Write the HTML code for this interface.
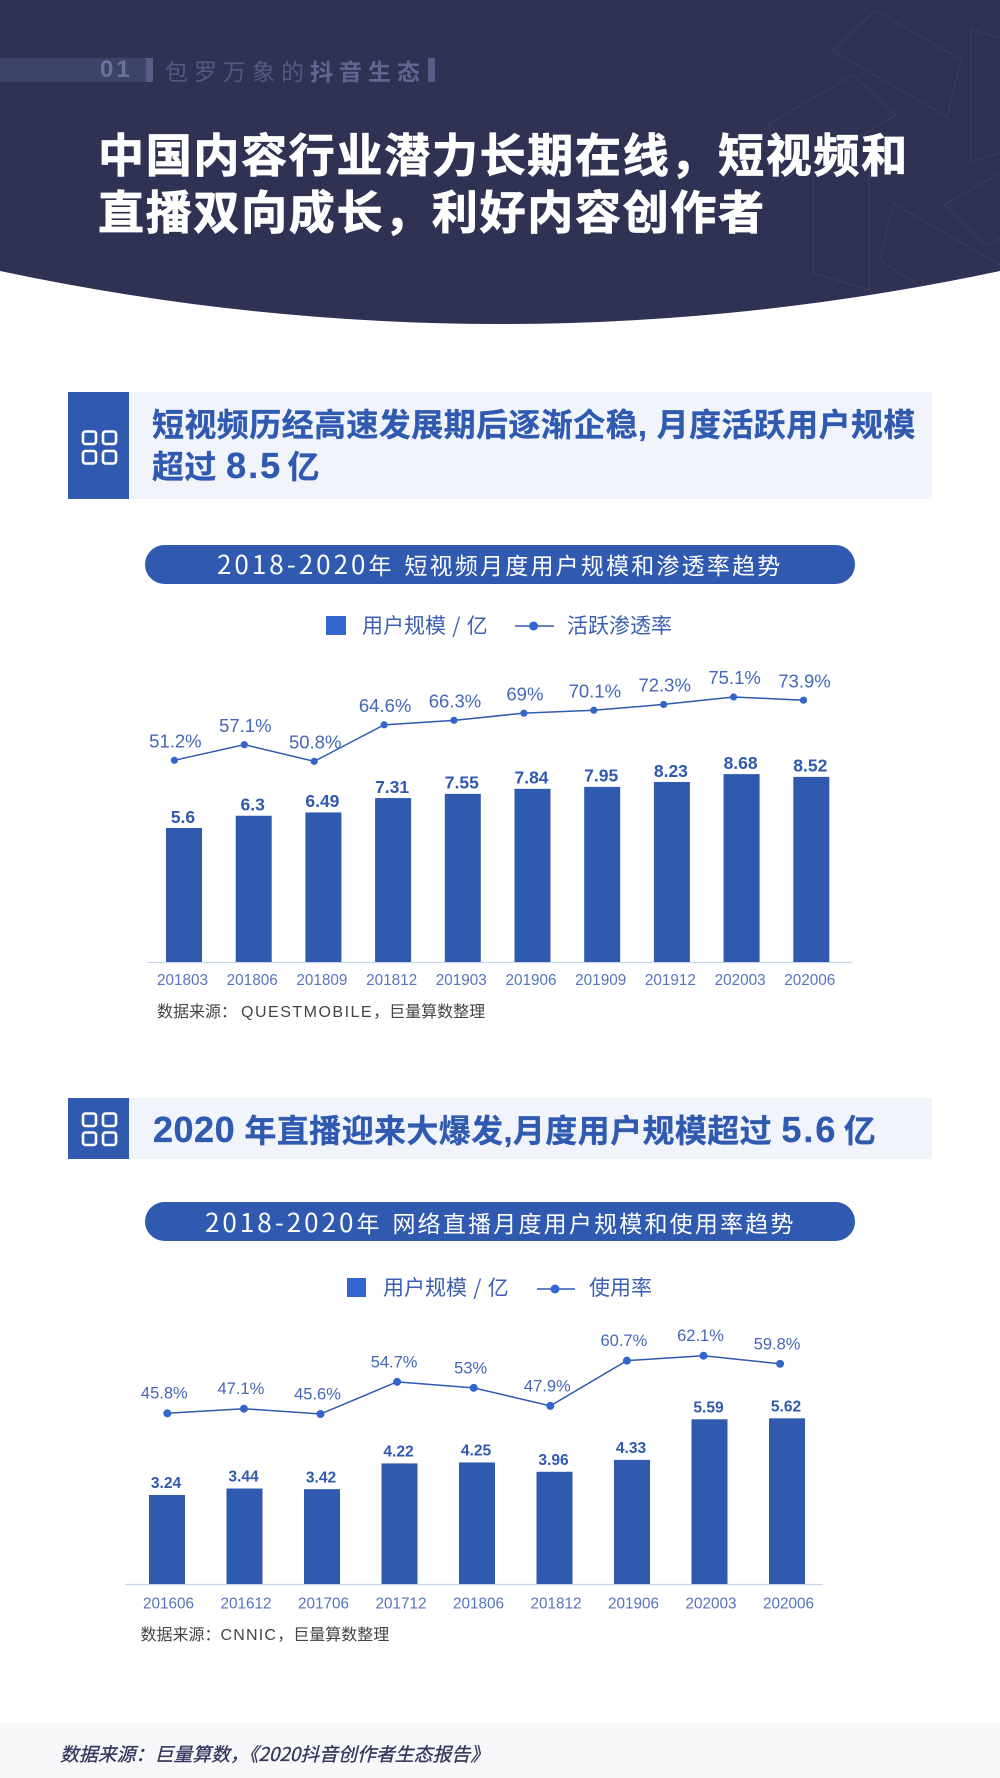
<!DOCTYPE html>
<html lang="zh-CN">
<head>
<meta charset="utf-8">
<title>中国内容行业潜力长期在线</title>
<style>
html,body{margin:0;padding:0;background:#fff;}
#page{position:relative;width:1000px;height:1778px;overflow:hidden;background:#fff;font-family:"Liberation Sans","Noto Sans CJK SC",sans-serif;}
.abs{position:absolute;white-space:nowrap;}
.cjk{font-family:"Noto Sans CJK SC","Liberation Sans",sans-serif;}
svg.layer{position:absolute;left:0;top:0;}
.sec-bg{position:absolute;left:129px;width:803px;background:#f1f5fb;}
.sec-blue{position:absolute;left:68px;width:61px;background:#3059b0;}
.sec-title{position:absolute;left:152px;color:#3059b0;font-weight:700;font-size:32px;line-height:40.5px;white-space:nowrap;letter-spacing:.4px;-webkit-text-stroke:.3px #3059b0;font-family:"Liberation Sans","Noto Sans CJK SC",sans-serif;}
.sec-num{font-size:36px;letter-spacing:2px;}
.pill{position:absolute;left:145px;width:710px;height:39px;border-radius:20px;background:#3059b0;}
.pill-text{position:absolute;color:#fff;font-size:23px;line-height:40px;white-space:nowrap;font-family:"Noto Sans CJK SC","Liberation Sans",sans-serif;}
.pill-num{font-size:26px;letter-spacing:3px;}
.legend-text{position:absolute;color:#3b5fb2;font-size:21px;line-height:30px;white-space:nowrap;word-spacing:1.5px;font-family:"Noto Sans CJK SC","Liberation Sans",sans-serif;}
.source{position:absolute;color:#444;font-size:16px;line-height:24px;white-space:nowrap;font-family:"Noto Sans CJK SC","Liberation Sans",sans-serif;}
</style>
</head>
<body>
<div id="page">

<svg class="layer" width="1000" height="340" viewBox="0 0 1000 340">
  <defs><clipPath id="hclip"><path d="M0 0H1000V271Q500 377 0 271Z"/></clipPath></defs>
  <g clip-path="url(#hclip)">
    <rect x="0" y="0" width="1000" height="340" fill="#303253"/>
    <g fill="none" stroke="#3b3e60" stroke-width="1">
      <path d="M875.7 10L961 60L947 117L832.7 50.7Z"/>
      <path d="M1000 38L971.3 29.3V162L1000 153"/>
      <path d="M853 75L896.3 115L781.7 181L768.5 124Z"/>
      <path d="M813 178L869 162V290L813 273Z"/>
      <path d="M893.3 203.3L1000 265V300H940L880 260Z"/>
      <path d="M1000 172.7L944 205L986.7 245.7L1000 238"/>
    </g>
  </g>
</svg>

<div class="abs" style="left:0;top:58px;width:146px;height:24px;background:#3e4368"></div>
<div class="abs" style="left:146px;top:58px;width:7px;height:24px;background:#555c85"></div>
<div class="abs" style="left:100px;top:56px;font-size:24px;line-height:28px;font-weight:700;letter-spacing:3px;color:#6b739c">01</div>
<div class="abs cjk" style="left:165px;top:54px;font-size:23px;line-height:32px;letter-spacing:6px;color:#535a82">包罗万象的<span style="font-weight:700;color:#5f668f">抖音生态</span></div>
<div class="abs" style="left:428px;top:58px;width:7px;height:24px;background:#555c85"></div>

<div class="abs cjk" style="left:98px;top:125px;font-size:46px;line-height:57px;font-weight:700;letter-spacing:1.7px;color:#fff;-webkit-text-stroke:.8px #fff">中国内容行业潜力长期在线&#xFF0C;短视频和<br>直播双向成长&#xFF0C;利好内容创作者</div>

<div class="sec-bg" style="top:392px;height:107px"></div>
<div class="sec-blue" style="top:392px;height:107px"></div>
<svg class="layer" width="1000" height="520" style="pointer-events:none">
  <g fill="none" stroke="#fff" stroke-width="2.6">
    <rect x="83" y="431.5" width="13" height="12.5" rx="2.5"/><rect x="103" y="431.5" width="13" height="12.5" rx="2.5"/>
    <rect x="83" y="451" width="13" height="12.5" rx="2.5"/><rect x="103" y="451" width="13" height="12.5" rx="2.5"/>
  </g>
</svg>
<div class="sec-title" style="top:405px">短视频历经高速发展期后逐渐企稳, 月度活跃用户规模<br>超过 <span class="sec-num">8.5</span> <span style="margin-left:-4px">亿</span></div>

<div class="pill" style="top:545px"></div>
<div class="pill-text" style="left:217px;top:544px"><span class="pill-num">2018-2020</span><span style="letter-spacing:2px">年</span><span style="display:inline-block;width:11px"></span><span style="letter-spacing:2.2px">短视频月度用户规模和渗透率趋势</span></div>

<div class="abs" style="left:326px;top:616px;width:19.5px;height:19px;background:#3366d0"></div>
<div class="legend-text" style="left:362px;top:610px">用户规模 / 亿</div>
<svg class="layer" width="1000" height="700" style="pointer-events:none">
  <line x1="515" y1="626" x2="554" y2="626" stroke="#3059b0" stroke-width="1.4"/><circle cx="533.6" cy="626" r="4.5" fill="#3366d0"/>
</svg>
<div class="legend-text" style="left:567px;top:610px">活跃渗透率</div>

<svg id="chart1" class="layer" width="1000" height="1778" style="pointer-events:none"></svg>
<div class="source" style="left:157px;top:998px">数据来源&#xFF1A;<span style="letter-spacing:1.5px;font-family:'Liberation Sans',sans-serif;margin-left:4px">QUESTMOBILE</span>&#xFF0C;巨量算数整理</div>

<div class="sec-bg" style="top:1098px;height:61px"></div>
<div class="sec-blue" style="top:1098px;height:61px"></div>
<svg class="layer" width="1000" height="1170" style="pointer-events:none">
  <g fill="none" stroke="#fff" stroke-width="2.6">
    <rect x="83" y="1113.5" width="13" height="12.5" rx="2.5"/><rect x="103" y="1113.5" width="13" height="12.5" rx="2.5"/>
    <rect x="83" y="1132.5" width="13" height="12.5" rx="2.5"/><rect x="103" y="1132.5" width="13" height="12.5" rx="2.5"/>
  </g>
</svg>
<div class="sec-title" style="left:153px;top:1110px"><span class="sec-num" style="letter-spacing:.5px">2020</span> 年直播迎来大爆发,月度用户规模超过 <span class="sec-num">5.6</span> <span style="margin-left:-3px">亿</span></div>

<div class="pill" style="top:1202px"></div>
<div class="pill-text" style="left:205px;top:1202px"><span class="pill-num">2018-2020</span><span style="letter-spacing:2px">年</span><span style="display:inline-block;width:11px"></span><span style="letter-spacing:2.2px">网络直播月度用户规模和使用率趋势</span></div>

<div class="abs" style="left:347px;top:1278px;width:19px;height:19px;background:#3366d0"></div>
<div class="legend-text" style="left:383px;top:1272px">用户规模 / 亿</div>
<svg class="layer" width="1000" height="1320" style="pointer-events:none">
  <line x1="537" y1="1289" x2="575" y2="1289" stroke="#3059b0" stroke-width="1.4"/><circle cx="555" cy="1289" r="4.5" fill="#3366d0"/>
</svg>
<div class="legend-text" style="left:589px;top:1272px">使用率</div>

<svg id="chart2" class="layer" width="1000" height="1778" style="pointer-events:none"></svg>
<div class="source" style="left:140.5px;top:1621px">数据来源&#xFF1A;<span style="font-family:'Liberation Sans',sans-serif;letter-spacing:1.2px">CNNIC</span>&#xFF0C;巨量算数整理</div>

<div class="abs" style="left:0;top:1723px;width:1000px;height:55px;background:#f8f8fb"></div>
<div class="abs cjk" style="left:60px;top:1740px;font-size:18.9px;line-height:28px;font-style:italic;color:#33365a;-webkit-text-stroke:.3px #33365a">数据来源&#xFF1A;巨量算数&#xFF0C;《2020抖音创作者生态报告》</div>
</div>

<script>
// Chart 1: short-video monthly users and penetration
var categories1 = ['201803','201806','201809','201812','201903','201906','201909','201912','202003','202006'];
var users1 = [5.6,6.3,6.49,7.31,7.55,7.84,7.95,8.23,8.68,8.52];
var rate1 = [51.2,57.1,50.8,64.6,66.3,69,70.1,72.3,75.1,73.9];

// Chart 2: live-streaming monthly users and usage
var categories2 = ['201606','201612','201706','201712','201806','201812','201906','202003','202006'];
var users2 = [3.24,3.44,3.42,4.22,4.25,3.96,4.33,5.59,5.62];
var rate2 = [45.8,47.1,45.6,54.7,53,47.9,60.7,62.1,59.8];

var SVGNS = 'http://www.w3.org/2000/svg';
function mk(svg, tag, attrs, text) {
  var n = document.createElementNS(SVGNS, tag);
  for (var k in attrs) n.setAttribute(k, attrs[k]);
  if (text !== undefined) n.textContent = text;
  svg.appendChild(n);
  return n;
}

function drawChart(svg, cats, users, rate, o) {
  function barX(i) { return o.barX0 + o.barStep * i; }
  function barY(v) { return o.base - (v - o.barMin) * o.barScale; }
  function lineX(i) { return o.lineX0 + o.lineStep * i; }
  function lineY(p) { return o.lineY0 - (p - o.lineRef) * o.lineScale; }

  var axis = mk(svg, 'line', {x1:o.axisL, x2:o.axisR, y1:o.base + 0.5, y2:o.base + 0.5, stroke:'#c6d4ef', 'stroke-width':1.3});
  
  

  users.forEach(function (v, i) {
    var y = barY(v);
    var bar = mk(svg, 'rect', {x:barX(i) - o.barW / 2, y:y, width:o.barW, height:o.base - y, fill:'#3059b0'});
    
    

    var val = mk(svg, 'text', {x:barX(i) - 1, y:y - o.valGap + 0.36 * o.valSize, 'text-anchor':'middle', fill:'#3059b0', 'font-size':o.valSize, 'font-weight':700, 'font-family':'"Liberation Sans",sans-serif'}, String(v));
    
    

    var tick = mk(svg, 'text', {x:barX(i) + o.tickDx, y:o.tickY + 5.5, 'text-anchor':'middle', fill:'#5674bd', 'font-size':15.3, 'font-family':'"Liberation Sans",sans-serif'}, cats[i]);
    
    
  });

  var pts = rate.map(function (p, i) { return lineX(i) + ',' + lineY(p); }).join(' ');
  var line = mk(svg, 'polyline', {points:pts, fill:'none', stroke:'#3059b0', 'stroke-width':1.5});
  
  

  rate.forEach(function (p, i) {
    var dot = mk(svg, 'circle', {cx:lineX(i), cy:lineY(p), r:o.dotR, fill:'#3366c8'});
    
    

    var lab = mk(svg, 'text', {x:lineX(i) + o.rateDx, y:lineY(p) - o.rateGap + 0.36 * o.rateSize, 'text-anchor':'middle', fill:'#4467b9', 'font-size':o.rateSize, 'font-family':'"Liberation Sans",sans-serif'}, p + '%');
    
    
  });
}

drawChart(document.getElementById('chart1'), categories1, users1, rate1, {
  base:962, axisL:147.5, axisR:852, barX0:184, barStep:69.7, barW:36, barMin:-2.057, barScale:17.5,
  lineX0:174.4, lineStep:69.9, lineY0:760.3, lineRef:51.2, lineScale:2.648, dotR:3.6,
  valSize:17.5, valGap:11.5, rateSize:18.5, rateGap:19.5, rateDx:1, tickY:979.5, tickDx:-1.5
});
drawChart(document.getElementById('chart2'), categories2, users2, rate2, {
  base:1584, axisL:125.5, axisR:822.5, barX0:167, barStep:77.5, barW:36, barMin:0.475, barScale:32.2,
  lineX0:167.3, lineStep:76.6, lineY0:1413.3, lineRef:45.8, lineScale:3.534, dotR:4,
  valSize:15.6, valGap:12.5, rateSize:16.5, rateGap:20.5, rateDx:-3, tickY:1603, tickDx:1.5
});
</script>
</body>
</html>
